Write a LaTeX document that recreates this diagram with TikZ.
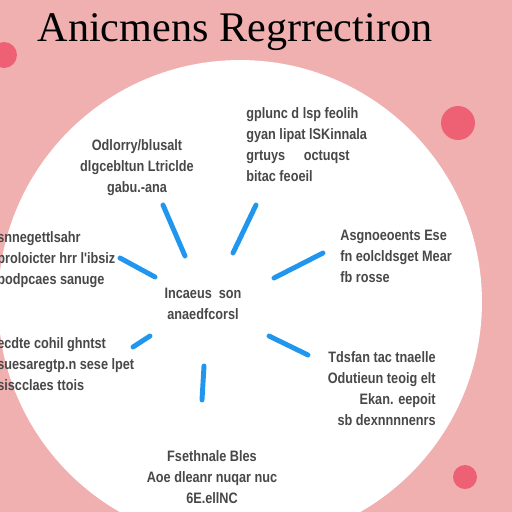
\documentclass[tikz,border=0pt]{standalone}
\usepackage{fontspec}
\setmainfont{Liberation Serif}
\newfontfamily\lblfont[FakeStretch=0.84]{Liberation Sans}
\usepackage{xcolor}
\usetikzlibrary{positioning}
\definecolor{bgpink}{HTML}{F0B0B0}
\definecolor{dotred}{HTML}{EE6174}
\definecolor{spokeblue}{HTML}{2196EE}
\definecolor{txtgray}{HTML}{484848}

\begin{document}
\begin{tikzpicture}[x=0.02cm, y=-0.02cm,
    lbl/.style={font=\lblfont\fontsize{8.6}{12}\selectfont\bfseries, text=txtgray, inner sep=0pt},
    spoke/.style={draw=spokeblue, line width=2.8pt, line cap=round}]
    \useasboundingbox (0,0) rectangle (512,512);
    \clip (0,0) rectangle (512,512);
    \fill[bgpink] (0,0) rectangle (512,512);
    %dots
    \fill[dotred] (4,55) circle (0.26cm);
    \fill[dotred] (458,123) circle (0.34cm);
    \fill[dotred] (465,477) circle (0.24cm);
    %big circle
    \fill[white] (240,302) circle (4.84cm);

    \node[font=\fontsize{24}{28}\selectfont, text=black] (title) at (235,32) {Anicmens Regrrectiron};

    \node[lbl] (hub) at (203,305) {\begin{tabular}{@{}c@{}}Incaeus\ \ son\\ anaedfcorsl\end{tabular}};

    \node[lbl, anchor=center] (ul) at (137,167) {\begin{tabular}{@{}c@{}}Odlorry/blusalt\\ dlgcebltun Ltriclde\\ gabu.-ana\end{tabular}};
    \node[lbl, anchor=west] (ur) at (246,146) {\begin{tabular}{@{}l@{}}gplunc d lsp feolih\\ gyan lipat lSKinnala\\ grtuys \quad octuqst\\ bitac feoeil\end{tabular}};
    \node[lbl, anchor=west] (l) at (-3,259) {\begin{tabular}{@{}l@{}}snnegettlsahr\\ proloicter hrr l'ibsiz\\ podpcaes sanuge\end{tabular}};
    \node[lbl, anchor=west] (r) at (340,257) {\begin{tabular}{@{}l@{}}Asgnoeoents Ese\\ fn eolcldsget Mear\\ fb rosse\end{tabular}};
    \node[lbl, anchor=west] (ll) at (-3,365) {\begin{tabular}{@{}l@{}}ecdte cohil ghntst\\ suesaregtp.n sese lpet\\ siscclaes ttois\end{tabular}};
    \node[lbl, anchor=east] (lr) at (436,390) {\begin{tabular}{@{}r@{}}Tdsfan tac tnaelle\\ Odutieun teoig elt\\ Ekan. eepoit\\ sb dexnnnnenrs\end{tabular}};
    \node[lbl] (bot) at (212,478) {\begin{tabular}{@{}c@{}}Fsethnale Bles\\ Aoe dleanr nuqar nuc\\ 6E.ellNC\end{tabular}};

    %spokes
    \coordinate (s1a) at (163,205); \coordinate (s1b) at (185,256);
    \coordinate (s2a) at (256,205); \coordinate (s2b) at (233,253);
    \coordinate (s3a) at (323,253); \coordinate (s3b) at (274,278);
    \coordinate (s4a) at (120,258); \coordinate (s4b) at (155,277);
    \coordinate (s5a) at (150,336); \coordinate (s5b) at (133,347);
    \coordinate (s6a) at (269,336); \coordinate (s6b) at (308,355);
    \coordinate (s7a) at (204,366); \coordinate (s7b) at (202,400);
    \foreach \s in {1,...,7}
      \draw[spoke] (s\s a) -- (s\s b);
\end{tikzpicture}
\end{document}
